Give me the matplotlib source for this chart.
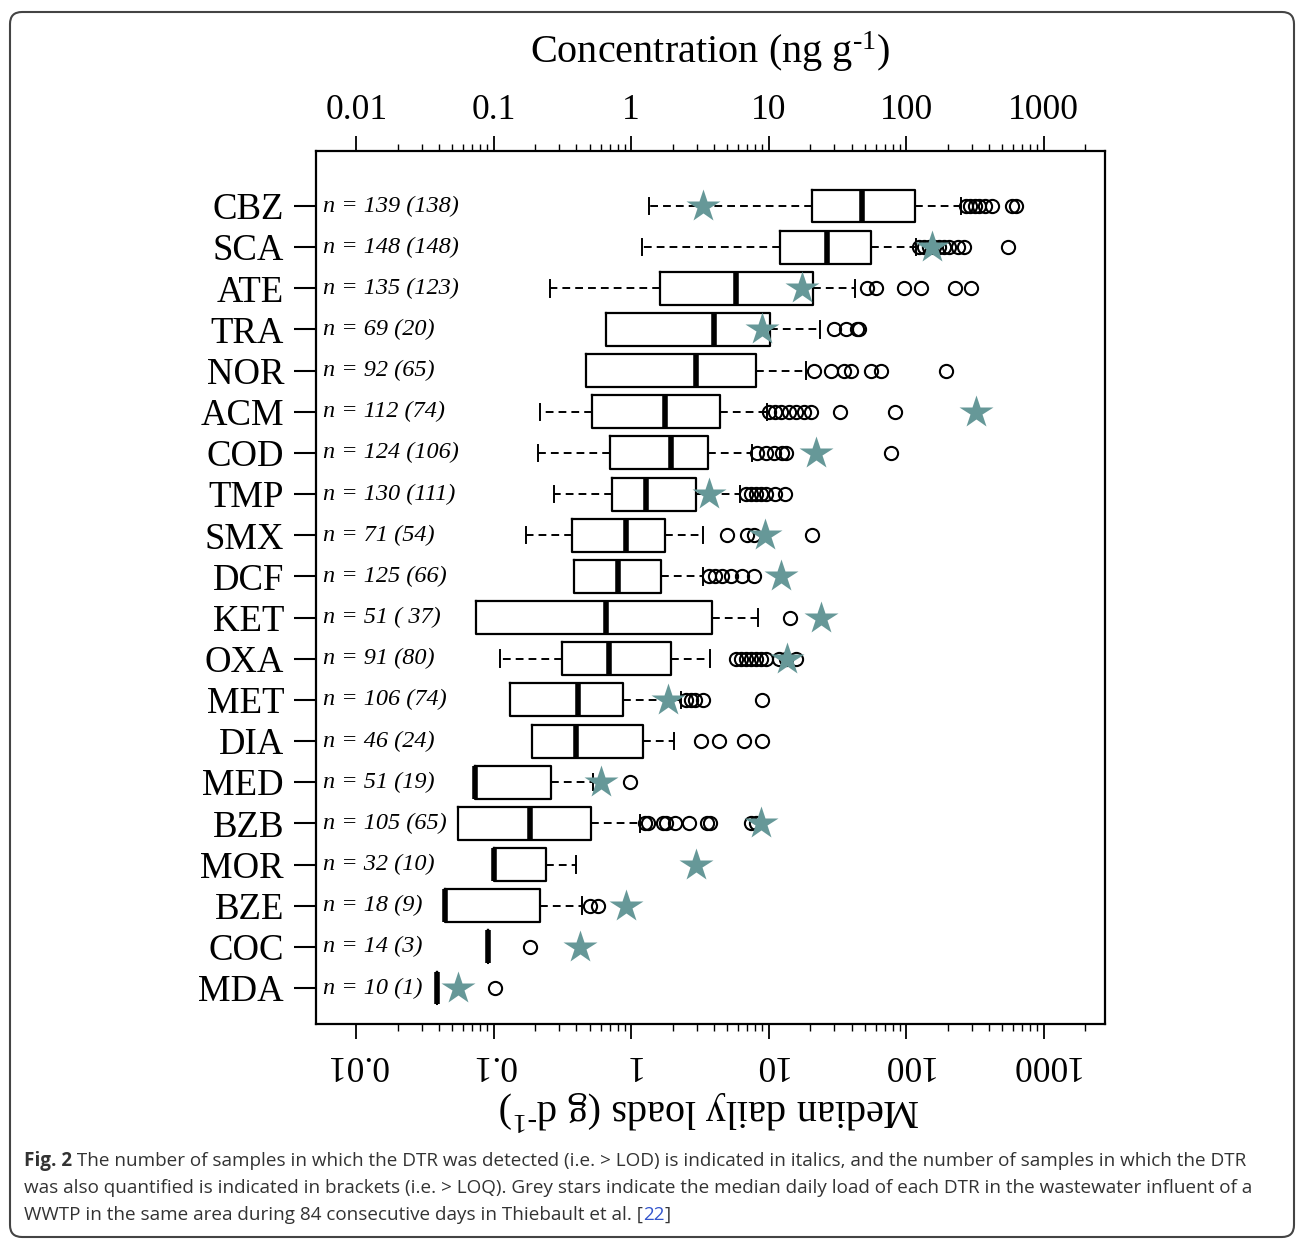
import matplotlib
matplotlib.use('Agg')
import numpy as np
import matplotlib.pyplot as plt
from matplotlib.patches import FancyBboxPatch
from matplotlib.ticker import NullFormatter
import matplotlib.transforms as mtransforms

plt.rcParams['font.family'] = 'Liberation Serif'
plt.rcParams['mathtext.fontset'] = 'custom'
plt.rcParams['mathtext.rm'] = 'Liberation Serif'
plt.rcParams['mathtext.it'] = 'Liberation Serif:italic'

# data (median daily loads, g/d, log axis)
drugs = ['CBZ', 'SCA', 'ATE', 'TRA', 'NOR', 'ACM', 'COD', 'TMP', 'SMX', 'DCF',
         'KET', 'OXA', 'MET', 'DIA', 'MED', 'BZB', 'MOR', 'BZE', 'COC', 'MDA']
n_labels = ['n = 139 (138)', 'n = 148 (148)', 'n = 135 (123)', 'n = 69 (20)',
            'n = 92 (65)', 'n = 112 (74)', 'n = 124 (106)', 'n = 130 (111)',
            'n = 71 (54)', 'n = 125 (66)', 'n = 51 ( 37)', 'n = 91 (80)',
            'n = 106 (74)', 'n = 46 (24)', 'n = 51 (19)', 'n = 105 (65)',
            'n = 32 (10)', 'n = 18 (9)', 'n = 14 (3)', 'n = 10 (1)']
whislo = [1.35, 1.2, 0.256, 0.657, 0.47, 0.217, 0.21, 0.274, 0.171, 0.384,
          0.074, 0.111, 0.131, 0.189, 0.0727, 0.0546, 0.1, 0.0439, 0.0904, 0.0384]
q1 = [20.5, 12.0, 1.63, 0.657, 0.47, 0.519, 0.703, 0.727, 0.371, 0.384,
      0.074, 0.313, 0.131, 0.189, 0.0727, 0.0546, 0.1, 0.0439, 0.0904, 0.0384]
med = [47.8, 26.5, 5.74, 3.97, 2.98, 1.77, 1.96, 1.29, 0.92, 0.80,
       0.657, 0.69, 0.41, 0.397, 0.0727, 0.183, 0.1, 0.0439, 0.0904, 0.0384]
q3 = [116, 55.6, 20.9, 10.3, 8.04, 4.39, 3.59, 2.98, 1.77, 1.66,
      3.84, 1.96, 0.875, 1.22, 0.26, 0.511, 0.24, 0.217, 0.0904, 0.0384]
whishi = [250, 118, 42.4, 23.6, 18.6, 9.67, 7.52, 6.14, 3.35, 3.35,
          8.32, 3.77, 2.3, 2.06, 0.528, 1.16, 0.397, 0.439, 0.0904, 0.0384]
fliers = [
    [274, 293, 319, 341, 371, 424, 584, 625],
    [124, 135, 147, 160, 174, 189, 206, 236, 261, 546],
    [51.9, 60.4, 96.7, 129, 228, 298],
    [29.8, 36.5, 43.9, 45.4],
    [21.3, 28.4, 35.3, 39.7, 55.6, 65.7, 196],
    [10.0, 11.1, 12.2, 14.0, 15.7, 18.0, 20.3, 33.0, 83.1],
    [8.17, 9.5, 10.9, 12.4, 13.3, 77.8],
    [6.8, 7.39, 8.04, 8.74, 9.5, 11.2, 13.1],
    [4.94, 6.91, 7.78, 20.6],
    [3.65, 4.1, 4.54, 5.28, 6.35, 7.78],
    [14.2],
    [5.74, 6.25, 6.8, 7.39, 8.04, 8.74, 9.5, 11.8, 13.3, 15.7],
    [2.52, 2.7, 2.93, 3.35, 8.89],
    [3.24, 4.32, 6.57, 8.89],
    [0.98],
    [1.27, 1.33, 1.71, 1.80, 2.09, 2.61, 3.53, 3.77, 7.39, 8.04],
    [],
    [0.502, 0.574],
    [0.183],
    [0.103],
]
# grey stars: median load in WWTP influent (Thiebault et al.)
stars = [3.3, 155, 17.4, 8.9, np.nan, 324, 22.0, 3.65, 9.35, 12.2,
         24.0, 13.5, 1.86, np.nan, 0.604, 8.74, 2.98, 0.92, 0.424, 0.0546]

W, H = 1296, 1239
fig = plt.figure(figsize=(W / 100, H / 100), dpi=100)
ax = fig.add_axes([316 / W, 1 - 1024 / H, 789 / W, 873 / H])

pos = np.arange(1, len(drugs) + 1)
stats = []
for i in range(len(drugs)):
    stats.append(dict(med=med[i], q1=q1[i], q3=q3[i], whislo=whislo[i],
                      whishi=whishi[i], fliers=fliers[i]))

ax.bxp(stats, positions=pos, widths=0.8, capwidths=0.4,
       orientation='horizontal',
       boxprops=dict(linewidth=1.6, color='black'),
       medianprops=dict(linewidth=4.0, color='black', solid_capstyle='butt'),
       whiskerprops=dict(linewidth=1.4, color='black', linestyle=(0, (4, 2.6))),
       capprops=dict(linewidth=1.4, color='black'),
       flierprops=dict(marker='o', markerfacecolor='none', markeredgecolor='black',
                       markersize=9.5, markeredgewidth=1.5))

ax.plot(stars, pos, linestyle='none', marker='*', markersize=25,
        color='#669898', markeredgecolor='none', zorder=5)

for i in range(len(drugs)):
    ax.text(0.009, pos[i], n_labels[i], transform=mtransforms.blended_transform_factory(ax.transAxes, ax.transData),
            ha='left', va='center', fontsize=17.5, fontstyle='italic')

ax.set_xscale('log')
ax.set_xlim(0.0051, 2790)
ax.set_ylim(20.875, -0.336)
ax.set_yticks(pos)
ax.set_yticklabels(drugs)
ax.tick_params(axis='y', length=16, width=1.5, labelsize=26.5, pad=7)

ax.set_xticks([0.01, 0.1, 1, 10, 100, 1000])
ax.set_xticklabels(['0.01', '0.1', '1', '10', '100', '1000'])
minor = [m * 10.0 ** e for e in range(-2, 4) for m in range(2, 10) if m * 10.0 ** e <= 2000]
ax.set_xticks(minor, minor=True)
ax.xaxis.set_minor_formatter(NullFormatter())
ax.tick_params(axis='x', which='both', top=True, bottom=True, labeltop=True,
               labelbottom=True, direction='out')
ax.tick_params(axis='x', which='major', length=11, width=1.3, labelsize=25.5, pad=6.5)
ax.tick_params(axis='x', which='minor', length=5, width=1.0)
for t in ax.xaxis.get_major_ticks():
    t.label1.set_rotation(180)

for s in ax.spines.values():
    s.set_linewidth(1.6)

fig.text(710 / W, 1 - 52 / H, r'Concentration (ng g$^{\text{-}\mathregular{1}}$)',
         ha='center', va='center', fontsize=29)
fig.text(710 / W, 1 - 1110 / H, r'Median daily loads (g d$^{\text{-}\mathregular{1}}$)',
         ha='center', va='center', fontsize=29, rotation=180)

# rounded frame around figure + caption
frame = FancyBboxPatch((10, 2), 1284, 1225, boxstyle='round,pad=0,rounding_size=12',
                       transform=mtransforms.IdentityTransform(), facecolor='none',
                       edgecolor='#444444', linewidth=1.5)
fig.patches.append(frame)

cap_kw = dict(fontfamily='Open Sans', fontsize=13.6, color='#333333', va='center')
fig.canvas.draw()
r = fig.canvas.get_renderer()
y1, y2, y3 = 1 - 1161 / H, 1 - 1188 / H, 1 - 1215 / H
t = fig.text(24 / W, y1, 'Fig. 2', fontweight='bold', **cap_kw)
bb = t.get_window_extent(r)
fig.text(bb.x1 / W, y1, ' The number of samples in which the DTR was detected (i.e. > LOD) is indicated in italics, and the number of samples in which the DTR', **cap_kw)
fig.text(24 / W, y2, 'was also quantified is indicated in brackets (i.e. > LOQ). Grey stars indicate the median daily load of each DTR in the wastewater influent of a', **cap_kw)
t = fig.text(24 / W, y3, 'WWTP in the same area during 84 consecutive days in Thiebault et al. [', **cap_kw)
bb = t.get_window_extent(r)
t = fig.text(bb.x1 / W, y3, '22', **dict(cap_kw, color='#3355cc'))
bb = t.get_window_extent(r)
fig.text(bb.x1 / W, y3, ']', **cap_kw)

fig.savefig('out.png', dpi=100)
